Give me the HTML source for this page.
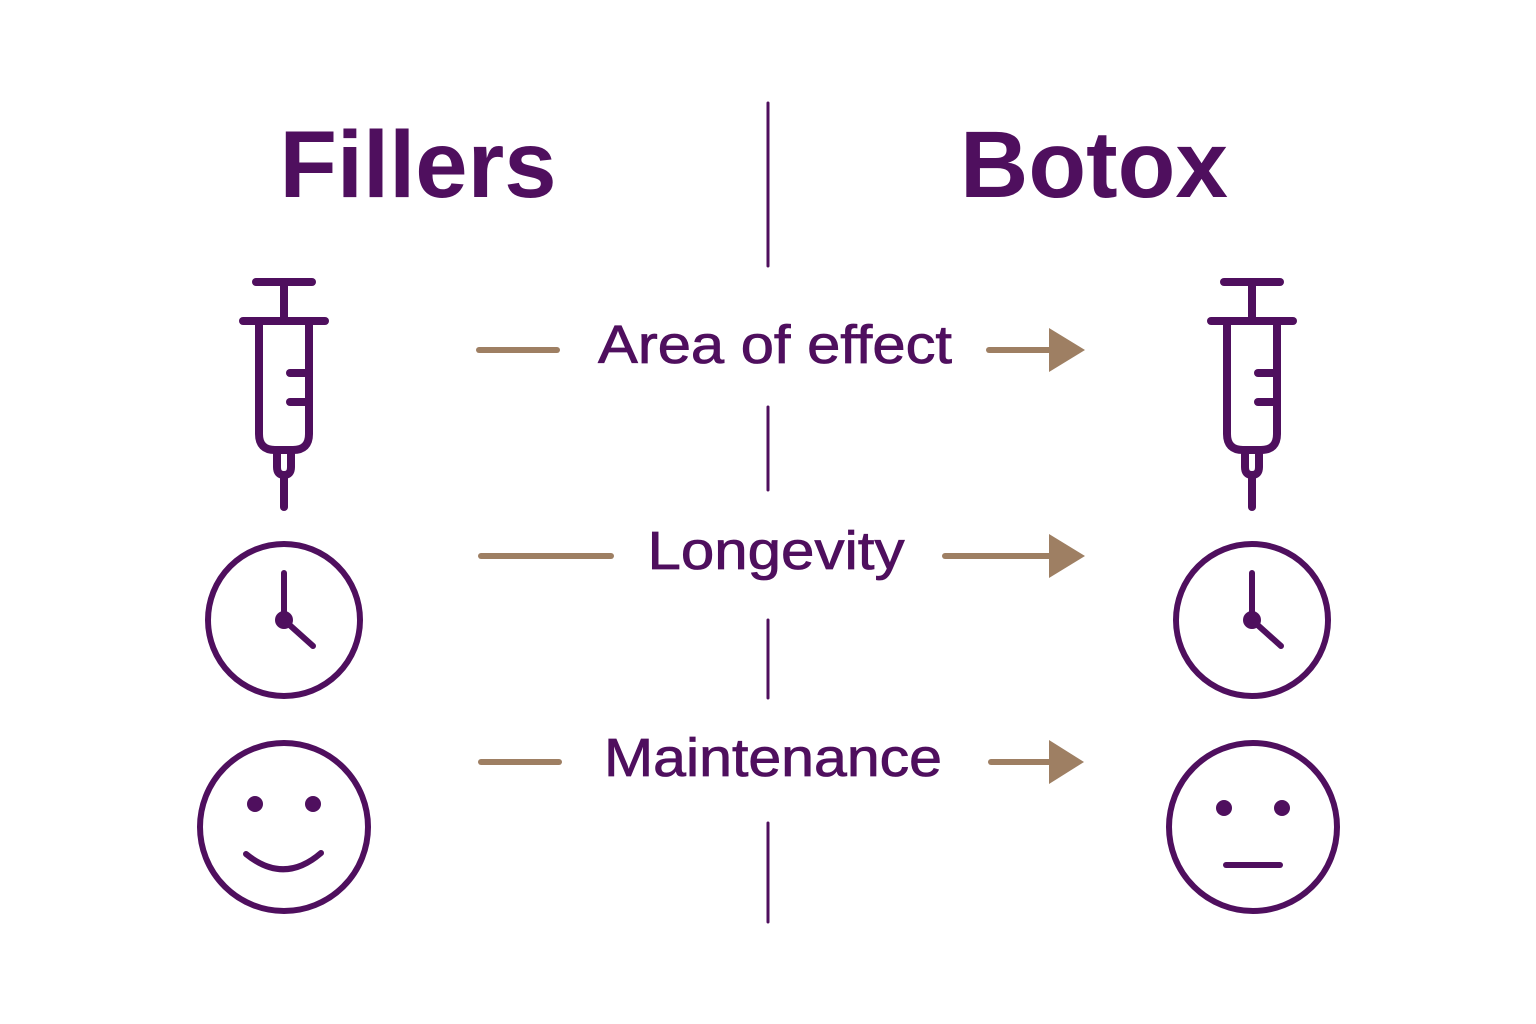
<!DOCTYPE html>
<html><head><meta charset="utf-8"><style>
html,body{margin:0;padding:0;background:#fff;}
svg{display:block;}
text{font-family:"Liberation Sans",sans-serif;fill:#4f0f5e;}
.lb{stroke:#4f0f5e;stroke-width:0.8;}
</style></head><body>
<svg width="1536" height="1024" viewBox="0 0 1536 1024" xmlns="http://www.w3.org/2000/svg">
<g stroke="#4f0f5e" stroke-width="3" stroke-linecap="round">
<line x1="768" y1="103" x2="768" y2="266"/>
<line x1="768" y1="407" x2="768" y2="490"/>
<line x1="768" y1="620" x2="768" y2="698"/>
<line x1="768" y1="823" x2="768" y2="922"/>
</g>
<text x="418" y="197" font-size="95" font-weight="bold" text-anchor="middle" textLength="277" lengthAdjust="spacingAndGlyphs">Fillers</text>
<text x="1094" y="197" font-size="95" font-weight="bold" text-anchor="middle" textLength="268" lengthAdjust="spacingAndGlyphs">Botox</text>
<text class="lb" x="775" y="363" font-size="54" text-anchor="middle" textLength="354" lengthAdjust="spacingAndGlyphs">Area of effect</text>
<text class="lb" x="776" y="569" font-size="54" text-anchor="middle" textLength="257" lengthAdjust="spacingAndGlyphs">Longevity</text>
<text class="lb" x="773" y="776" font-size="54" text-anchor="middle" textLength="338" lengthAdjust="spacingAndGlyphs">Maintenance</text>
<g stroke="#9e7f63" stroke-width="6" stroke-linecap="round" fill="#9e7f63">
<line x1="479" y1="350" x2="557" y2="350"/>
<line x1="989" y1="350" x2="1052" y2="350"/>
<polygon stroke="none" points="1049,328 1085,350 1049,372"/>
<line x1="481" y1="556" x2="611" y2="556"/>
<line x1="945" y1="556" x2="1052" y2="556"/>
<polygon stroke="none" points="1049,534 1085,556 1049,578"/>
<line x1="481" y1="762" x2="559" y2="762"/>
<line x1="991" y1="762" x2="1052" y2="762"/>
<polygon stroke="none" points="1049,740 1084,762 1049,784"/>
</g>
<defs>
<g id="syr" fill="none" stroke="#4f0f5e" stroke-width="8" stroke-linecap="round" stroke-linejoin="round">
<line x1="-28" y1="282" x2="28" y2="282"/>
<line x1="0" y1="282" x2="0" y2="321"/>
<line x1="-41" y1="321" x2="41" y2="321"/>
<path d="M-25,321 V434 Q-25,450 -9,450 H9 Q25,450 25,434 V321"/>
<line x1="6" y1="373" x2="25" y2="373"/>
<line x1="6" y1="402" x2="25" y2="402"/>
<path d="M-7,450 V467 Q-7,475 0,475 Q7,475 7,467 V450"/>
<line x1="0" y1="475" x2="0" y2="507"/>
</g>
<g id="clk" fill="none" stroke="#4f0f5e" stroke-width="6" stroke-linecap="round">
<circle cx="0" cy="620" r="76"/>
<polyline points="0,573 0,620 29,646" stroke-linejoin="round"/>
<circle cx="0" cy="620" r="6" fill="#4f0f5e"/>
</g>
</defs>
<use href="#syr" x="284"/>
<use href="#syr" x="1252"/>
<use href="#clk" x="284"/>
<use href="#clk" x="1252"/>
<g fill="none" stroke="#4f0f5e" stroke-width="6" stroke-linecap="round">
<circle cx="284" cy="827" r="84"/>
<path d="M246,854 Q284,885 321,853"/>
<circle cx="1253" cy="827" r="84"/>
<line x1="1226" y1="865" x2="1280" y2="865"/>
</g>
<g fill="#4f0f5e">
<circle cx="255" cy="804" r="8"/><circle cx="313" cy="804" r="8"/>
<circle cx="1224" cy="808" r="8"/><circle cx="1282" cy="808" r="8"/>
</g>
</svg>
</body></html>
